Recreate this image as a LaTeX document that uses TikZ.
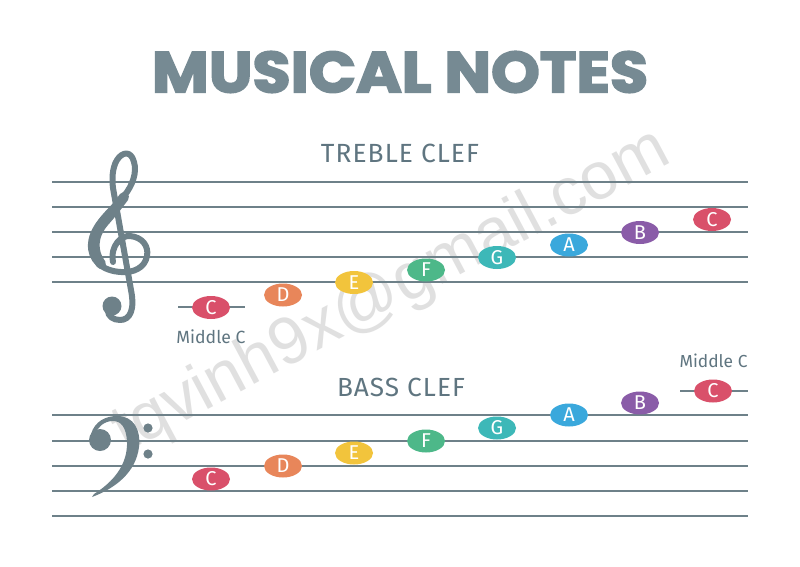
\documentclass[tikz,border=0pt]{standalone}
\usepackage{fontspec}
\setmainfont{Fira Sans}
\newfontfamily\titlefont{Poppins}[FakeBold=3]
\newfontfamily\wmfont{Liberation Sans}
\usetikzlibrary{shapes.geometric}
\definecolor{staffc}{HTML}{6E8189}
\definecolor{textc}{HTML}{5F7580}
\definecolor{titlec}{HTML}{768A93}
\definecolor{nC}{HTML}{D9506A}
\definecolor{nD}{HTML}{E8865A}
\definecolor{nE}{HTML}{F2C43C}
\definecolor{nF}{HTML}{4DB889}
\definecolor{nG}{HTML}{3DB8B8}
\definecolor{nA}{HTML}{3AA8DC}
\definecolor{nB}{HTML}{8A5CA8}
\tikzset{
  staffline/.style={draw=staffc, line width=2.4pt},
  notebox/.style={ellipse, minimum width=38pt, minimum height=23pt, inner sep=0pt,
    text=white, font=\fontsize{20}{20}\selectfont},
  lbl/.style={text=textc, inner sep=0pt},
  clefc/.style={fill=staffc, draw=none},
  clefline/.style={draw=staffc, line cap=round, line join=round},
}
\begin{document}
\begin{tikzpicture}[x=1pt,y=-1pt]
\useasboundingbox (0,0) rectangle (800,566);
\fill[white] (0,0) rectangle (800,566);

% title
\node[text=titlec, inner sep=0pt] (title) at (400,72)
  {\resizebox{496pt}{41pt}{\titlefont\bfseries MUSICAL NOTES}};

% captions
\node[lbl] (treblecap) at (400,153) {\resizebox{158pt}{!}{\fontsize{26}{26}\selectfont\addfontfeature{LetterSpace=4}TREBLE CLEF}};
\node[lbl] (basscap) at (401,387) {\resizebox{128pt}{!}{\fontsize{26}{26}\selectfont\addfontfeature{LetterSpace=4}BASS CLEF}};

% watermark
\node[text=gray!40, opacity=0.6, rotate=28, inner sep=0pt] (wm) at (392,292)
  {\resizebox{620pt}{!}{\wmfont tqvinh9x@gmail.com}};

% staves
\foreach \y in {182,207,232,257,282} \draw[staffline] (52,\y) -- (748,\y);
\foreach \y in {415,441,466,491,516} \draw[staffline] (52,\y) -- (748,\y);

% ledger lines
\coordinate (l1a) at (178,307); \coordinate (l1b) at (245,307);
\draw[staffline] (l1a) -- (l1b);
\coordinate (l2a) at (680,391); \coordinate (l2b) at (748,391);
\draw[staffline] (l2a) -- (l2b);

% treble clef
\draw[clefline, line width=6pt]
  (113,262) .. controls (110,245) and (122,235) .. (130,236)
  .. controls (142,237) and (149,246) .. (147,256)
  .. controls (145,268) and (133,273) .. (121,272)
  .. controls (102,271) and (90,260) .. (91,244)
  .. controls (92,225) and (112,210) .. (124,196)
  .. controls (133,185) and (137,172) .. (134,162)
  .. controls (131,150) and (122,152) .. (117,160)
  .. controls (112,168) and (112,180) .. (113,188)
  -- (131,290)
  .. controls (135,310) and (130,320) .. (120,320)
  .. controls (113,320) and (108,316) .. (108,311);
\draw[clefline, line width=10pt]
  (101,264) .. controls (92,252) and (92,236) .. (104,222)
  .. controls (112,213) and (118,205) .. (124,197);
\fill[staffc] (112,306) circle (9.5);

% bass clef
\fill[clefc] (100,440) circle (11);
\fill[clefc] (91,434) .. controls (95,421) and (106,416) .. (117,416)
  .. controls (134,416) and (141,430) .. (139,447)
  .. controls (136,472) and (116,488) .. (92,497)
  -- (94,494)
  .. controls (113,482) and (128,465) .. (127,441)
  .. controls (126,427) and (121,421) .. (113,421)
  .. controls (104,421) and (98,427) .. (95,434) -- cycle;
\fill[clefc] (148,428) circle (4.6);
\fill[clefc] (148,454) circle (4.6);

% treble notes
\node[notebox, fill=nC] (tc1) at (211,307.5) {C};
\node[notebox, fill=nD] (td) at (283,295) {D};
\node[notebox, fill=nE] (te) at (354,282.5) {E};
\node[notebox, fill=nF] (tf) at (426,270) {F};
\node[notebox, fill=nG] (tg) at (497,257.5) {G};
\node[notebox, fill=nA] (ta) at (569,245) {A};
\node[notebox, fill=nB] (tb) at (640,232.5) {B};
\node[notebox, fill=nC] (tc2) at (712,219.5) {C};

% bass notes
\node[notebox, fill=nC] (bc1) at (211,479) {C};
\node[notebox, fill=nD] (bd) at (283,466) {D};
\node[notebox, fill=nE] (be) at (354,453) {E};
\node[notebox, fill=nF] (bf) at (426,441) {F};
\node[notebox, fill=nG] (bg) at (497,428) {G};
\node[notebox, fill=nA] (ba) at (569,415) {A};
\node[notebox, fill=nB] (bb) at (640,403) {B};
\node[notebox, fill=nC] (bc2) at (713,391) {C};

% middle C labels
\node[lbl] (mc1) at (211,337) {\resizebox{69pt}{!}{\fontsize{16}{16}\selectfont Middle C}};
\node[lbl] (mc2) at (713.5,361) {\resizebox{68pt}{!}{\fontsize{16}{16}\selectfont Middle C}};
\end{tikzpicture}
\end{document}
